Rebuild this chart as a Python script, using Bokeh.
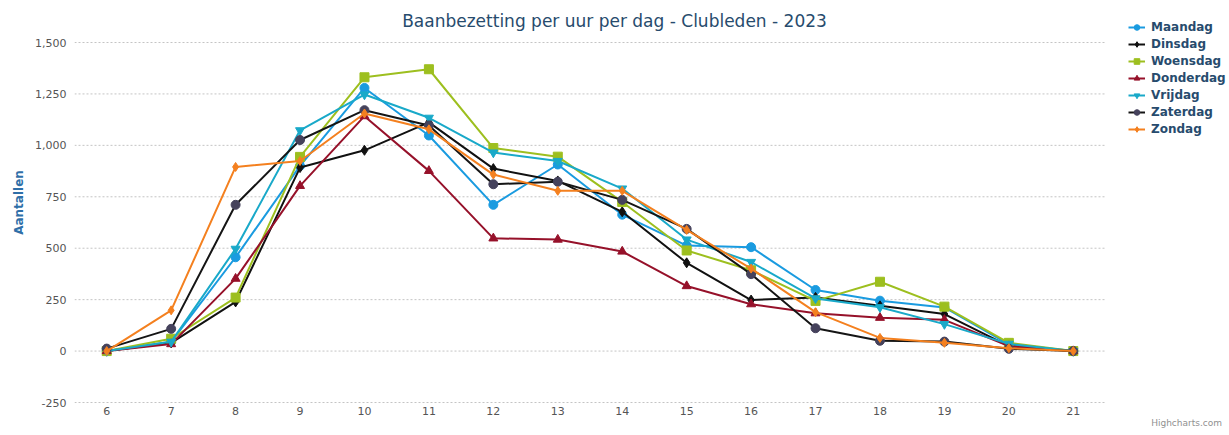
from bokeh.plotting import figure
from bokeh.models import (Legend, LegendItem, Label, NumeralTickFormatter,
                          FixedTicker, Range1d)
from bokeh.embed import file_html
from bokeh.resources import INLINE

hours = [6, 7, 8, 9, 10, 11, 12, 13, 14, 15, 16, 17, 18, 19, 20, 21]

maandag   = [0, 45, 456, 900, 1279, 1048, 711, 907, 663, 513, 505, 297, 245, 212, 32, 0]
dinsdag   = [0, 40, 239, 892, 976, 1112, 887, 827, 677, 429, 248, 261, 220, 180, 24, 0]
woensdag  = [0, 60, 260, 944, 1331, 1370, 987, 945, 725, 489, 393, 244, 337, 216, 40, 0]
donderdag = [0, 34, 352, 803, 1142, 876, 548, 542, 484, 316, 228, 184, 162, 152, 24, 0]
vrijdag   = [0, 45, 497, 1073, 1247, 1134, 965, 924, 790, 542, 433, 256, 213, 131, 35, 0]
zaterdag  = [12, 108, 711, 1026, 1171, 1097, 811, 823, 735, 594, 374, 111, 50, 46, 11, 0]
zondag    = [0, 198, 895, 924, 1155, 1078, 858, 779, 779, 589, 401, 189, 64, 40, 14, 0]

series_names = ["Maandag", "Dinsdag", "Woensdag", "Donderdag", "Vrijdag", "Zaterdag", "Zondag"]
series_values = [maandag, dinsdag, woensdag, donderdag, vrijdag, zaterdag, zondag]
y_ticks = [-250, 0, 250, 500, 750, 1000, 1250, 1500]

line_colors = ["#1a9be0", "#111111", "#9dbf1f", "#96112a", "#19a9c9", "#151515", "#f4801f"]
marker_colors = ["#1a9be0", "#111111", "#9dbf1f", "#96112a", "#19a9c9", "#45425c", "#f4801f"]
markers = ["circle", "diamond", "square", "triangle", "inverted_triangle", "circle", "diamond"]
marker_sizes = [9, 10, 9, 9, 9, 9, 9]

W, H = 1229, 435
LEFT, BOTTOM = 74, 31
FRAME_H = H - BOTTOM
TOP_PX, BOT_PX = 42, 402        # pixel rows of the 1500 and -250 gridlines
u = 1750 / (BOT_PX - TOP_PX)
y_max = 1500 + TOP_PX * u
y_min = -250 - (FRAME_H - BOT_PX) * u
xpx = (1105 - LEFT) / 16
x_max = 5.5 + (W - LEFT) / xpx

p = figure(width=W, height=H, output_backend="svg", toolbar_location=None, title=None,
           x_range=Range1d(5.5, x_max), y_range=Range1d(y_min, y_max),
           min_border_left=LEFT, min_border_right=0, min_border_top=0,
           min_border_bottom=BOTTOM)
p.outline_line_color = None
p.background_fill_color = "white"
p.border_fill_color = "white"

p.xaxis.ticker = FixedTicker(ticks=hours)
p.yaxis.ticker = FixedTicker(ticks=y_ticks)
p.yaxis.formatter = NumeralTickFormatter(format="0,0")
for ax in (p.xaxis[0], p.yaxis[0]):
    ax.axis_line_color = None
    ax.major_tick_line_color = None
    ax.minor_tick_line_color = None
    ax.major_tick_out = 0
    ax.minor_tick_out = 0
    ax.major_label_text_font = "DejaVu Sans"
    ax.major_label_text_font_size = "11px"
    ax.major_label_text_color = "#555555"
p.yaxis.major_label_standoff = 8
p.xaxis.major_label_standoff = 2
p.yaxis.axis_label = "Aantallen"
p.yaxis.axis_label_text_font = "DejaVu Sans"
p.yaxis.axis_label_text_font_size = "12px"
p.yaxis.axis_label_text_font_style = "bold"
p.yaxis.axis_label_text_color = "#2f6fa8"
p.yaxis.axis_label_standoff = 6

# credits as the x axis label, at the right end (padded so it stays inside the page)
xa = p.xaxis[0]
xa.axis_label = "Highcharts.com" + "\u00a0" * 30
xa.axis_label_text_font = "DejaVu Sans"
xa.axis_label_text_font_size = "9px"
xa.axis_label_text_font_style = "normal"
xa.axis_label_text_color = "#909090"
xa.axis_label_standoff = 0
xa.axis_label_align = "end"

p.xgrid.grid_line_color = None
p.ygrid.grid_line_color = None

p.segment(x0=[5.5] * len(y_ticks), x1=[21.5] * len(y_ticks), y0=y_ticks, y1=y_ticks,
          line_color="#c4c4c4", line_width=1, line_dash="2 2")

items = []
for name, vals, lc, mc, mk, ms in zip(series_names, series_values, line_colors,
                                       marker_colors, markers, marker_sizes):
    r1 = p.line(hours, vals, line_color=lc, line_width=2)
    r2 = p.scatter(hours, vals, marker=mk, size=ms, fill_color=mc, line_color=mc)
    items.append(LegendItem(label=name, renderers=[r1, r2]))

legend = Legend(items=items, location=(1128 - LEFT, FRAME_H - 136), orientation="vertical",
                label_text_font="DejaVu Sans", label_text_font_size="12px",
                label_text_color="#274b6d", label_text_font_style="bold",
                glyph_width=17, glyph_height=14, label_height=14, spacing=3,
                padding=0, margin=0, border_line_color=None,
                background_fill_alpha=0, label_standoff=6)
p.add_layout(legend, "center")

title = Label(x=614 - LEFT, y=FRAME_H - 20, x_units="screen", y_units="screen",
              text="Baanbezetting per uur per dag - Clubleden - 2023",
              text_font="DejaVu Sans", text_font_size="17px", text_color="#274b6d",
              text_align="center", text_baseline="middle")
p.add_layout(title)

open("out.html", "w").write(file_html(p, INLINE))
